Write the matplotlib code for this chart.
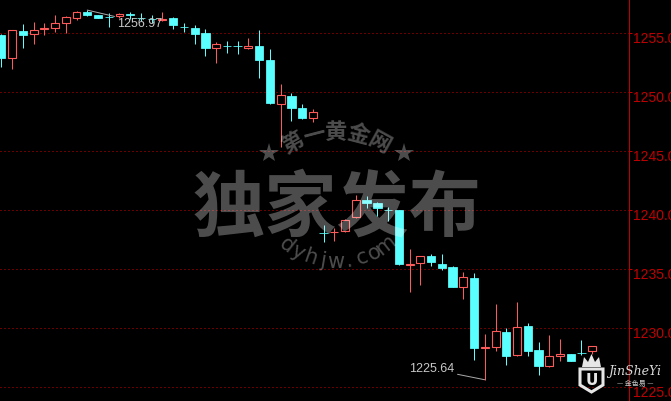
import numpy as np
import matplotlib
import matplotlib.pyplot as plt
import matplotlib.transforms as mtransforms
from matplotlib.patches import Polygon

matplotlib.set_loglevel('error')

# OHLC (one candle per bar)
opens = [1254.86, 1252.93, 1255.19, 1254.97, 1255.39, 1255.47, 1255.90, 1256.32, 1256.78, 1256.55,
         1256.42, 1256.44, 1256.66, 1256.34, 1256.23, 1256.17, 1256.30, 1255.55, 1255.45, 1255.03,
         1253.78, 1253.94, 1253.93, 1253.75, 1253.92, 1252.74, 1249.03, 1249.69, 1248.67, 1247.85,
         1238.12, 1238.14, 1238.27, 1239.46, 1240.87, 1240.62, 1240.04, 1240.03, 1235.40, 1235.51,
         1236.13, 1235.45, 1235.19, 1233.53, 1234.26, 1228.36, 1228.44, 1229.69, 1227.76, 1230.19,
         1228.16, 1226.83, 1227.68, 1227.80, 1227.95, 1228.05]
highs = [1254.95, 1255.27, 1255.79, 1255.96, 1255.87, 1256.55, 1256.47, 1256.90, 1256.97, 1256.58,
         1256.75, 1256.72, 1256.81, 1256.69, 1256.55, 1256.78, 1256.38, 1255.87, 1255.70, 1255.36,
         1254.24, 1254.35, 1254.35, 1254.60, 1255.28, 1253.67, 1250.70, 1249.94, 1248.98, 1248.58,
         1238.75, 1238.47, 1239.29, 1241.30, 1241.19, 1240.70, 1240.28, 1240.05, 1236.72, 1236.17,
         1236.30, 1236.30, 1235.28, 1234.75, 1234.69, 1229.49, 1232.06, 1230.00, 1232.23, 1230.45,
         1228.84, 1229.43, 1229.09, 1227.82, 1229.01, 1228.50]
lows = [1252.17, 1252.00, 1253.78, 1254.12, 1254.86, 1255.11, 1255.03, 1256.15, 1256.49, 1256.28,
        1255.56, 1256.30, 1256.21, 1256.04, 1255.87, 1256.08, 1255.36, 1255.11, 1254.12, 1253.08,
        1252.51, 1253.33, 1253.25, 1253.67, 1251.21, 1249.05, 1245.36, 1247.57, 1247.74, 1247.48,
        1237.34, 1237.40, 1238.14, 1239.35, 1240.22, 1239.54, 1239.12, 1235.39, 1233.05, 1233.67,
        1235.31, 1234.97, 1233.53, 1232.48, 1227.34, 1225.64, 1228.10, 1226.92, 1227.65, 1227.68,
        1226.07, 1226.69, 1227.25, 1227.23, 1227.74, 1227.82]
closes = [1252.93, 1255.25, 1254.88, 1255.25, 1255.47, 1255.87, 1256.36, 1256.78, 1256.55, 1256.32,
          1256.39, 1256.61, 1256.53, 1256.31, 1256.19, 1256.25, 1255.70, 1255.52, 1254.94, 1253.78,
          1254.07, 1253.91, 1253.90, 1253.92, 1252.74, 1249.09, 1249.75, 1248.69, 1247.82, 1248.33,
          1238.09, 1238.19, 1239.15, 1240.85, 1240.64, 1240.19, 1240.01, 1235.47, 1235.45, 1236.10,
          1235.59, 1235.14, 1233.53, 1234.32, 1228.33, 1228.41, 1229.75, 1227.68, 1230.08, 1228.10,
          1226.83, 1227.65, 1227.80, 1227.25, 1227.92, 1228.47]
price_ticks = [1225, 1230, 1235, 1240, 1245, 1250, 1255]

W, H = 671, 402
RED = '#ff5a5a'
CYAN = '#5affff'
AXRED = '#c00000'
PX = 72 / 100  # one pixel in points

fig = plt.figure(figsize=(W / 100, H / 100), dpi=100, facecolor='black')
ax = fig.add_axes([0, 0, 629.3 / W, 1])
ax.set_facecolor('black')

o = np.array(opens); h = np.array(highs); l = np.array(lows); c = np.array(closes)
x = np.arange(len(o))
bull = c >= o

ax.vlines(x[bull], l[bull], h[bull], color=RED, linewidth=PX, zorder=2)
ax.vlines(x[~bull], l[~bull], h[~bull], color=CYAN, linewidth=PX, zorder=2)
ax.bar(x[bull], (c - o)[bull], bottom=o[bull], width=0.74, facecolor='black',
       edgecolor=RED, linewidth=PX * 1.1, zorder=3)
ax.bar(x[~bull], (o - c)[~bull], bottom=c[~bull], width=0.78, facecolor=CYAN,
       edgecolor=CYAN, linewidth=PX * 0.8, zorder=3)

ax.set_xlim(-0.121, 58.45)
ax.set_ylim(1223.84, 1257.91)

# axis / grid
for s in ['left', 'top', 'bottom']:
    ax.spines[s].set_visible(False)
ax.spines['right'].set_color(AXRED)
ax.spines['right'].set_linewidth(PX)
ax.set_xticks([])
ax.yaxis.tick_right()
ax.set_yticks(price_ticks)
ax.set_yticklabels([f'{v:.1f}' for v in price_ticks], family='Liberation Sans', fontsize=10)
ax.tick_params(axis='y', colors=AXRED, length=3 * PX, width=PX, pad=0.4)
ax.grid(axis='y', color='#d00000', linestyle=(0, (1, 3)), linewidth=PX)
ax.set_axisbelow(True)
off = mtransforms.ScaledTranslation(0, -3 / 100, fig.dpi_scale_trans)
for lab in ax.get_yticklabels():
    lab.set_transform(lab.get_transform() + off)

# high / low labels
ih = int(np.argmax(h)); il = int(np.argmin(l))
ax.annotate(f'{h[ih]:.2f}', xy=(ih, h[ih]), xytext=(30, -7), textcoords='offset pixels',
            ha='left', va='top', color='#c8c8c8', fontsize=9, family='Liberation Sans',
            arrowprops=dict(arrowstyle='-', color='#a8a8a8', lw=PX, relpos=(0, 1),
                            shrinkA=0, shrinkB=0), zorder=6)
ax.annotate(f'{l[il]:.2f}', xy=(il, l[il]), xytext=(-30, 6), textcoords='offset pixels',
            ha='right', va='bottom', color='#c8c8c8', fontsize=9, family='Liberation Sans',
            arrowprops=dict(arrowstyle='-', color='#a8a8a8', lw=PX, relpos=(1, 0),
                            shrinkA=0, shrinkB=0), zorder=6)

# watermark overlay in pixel coordinates
lax = fig.add_axes([0, 0, 1, 1])
lax.set_xlim(0, W); lax.set_ylim(H, 0)
lax.axis('off')
lax.patch.set_alpha(0)

wm = dict(color='white', alpha=0.3)
cjk = ['Noto Sans CJK SC', 'DejaVu Sans']
lax.text(337, 209, '独家发布', ha='center', va='center', fontsize=52, family=cjk,
         weight='bold', **wm)

cx, cy, r = 336, 220, 88
for ch, a in zip('第一黄金网', [-29, -14.5, 0, 14.5, 29]):
    t = np.radians(a)
    lax.text(cx + r * np.sin(t), cy - r * np.cos(t), ch, rotation=-a, ha='center', va='center',
             fontsize=16, family=cjk, weight='bold', rotation_mode='anchor', **wm)
lax.plot([268.5, 404], [154, 154], linestyle='none', marker='*', ms=15, mew=0,
         color='white', alpha=0.3)

cx2, cy2, r2 = 336, 182, 80
for ch, a in zip('dyhjw.com', np.linspace(38, -38, 9)):
    t = np.radians(a)
    lax.text(cx2 - r2 * np.sin(t), cy2 + r2 * np.cos(t), ch, rotation=-a, ha='center',
             va='center', fontsize=15, family='DejaVu Sans', rotation_mode='anchor', **wm)

# logo, bottom right
LOGO = '#e6e6e6'
lax.add_patch(Polygon([(580, 370), (603, 370), (603, 386), (591.5, 393), (580, 386)],
                      closed=True, facecolor='none', edgecolor=LOGO, linewidth=2.2))
lax.add_patch(Polygon([(582, 368), (584, 358), (588, 363), (591.5, 355), (595, 363),
                       (599, 358), (601, 368)], closed=True, facecolor=LOGO, edgecolor='none'))
lax.text(591.5, 381, 'U', ha='center', va='center', fontsize=11, weight='bold', color=LOGO,
         family='DejaVu Sans')
lax.text(635, 372, 'JinSheYi', ha='center', va='center', fontsize=9, style='italic',
         family='DejaVu Serif', color='#d8d8d8')
lax.text(635, 384, '— 金色易 —', ha='center', va='center', fontsize=5, family=cjk,
         color='#c8c8c8')

fig.savefig('out.png', dpi=100, facecolor='black')
